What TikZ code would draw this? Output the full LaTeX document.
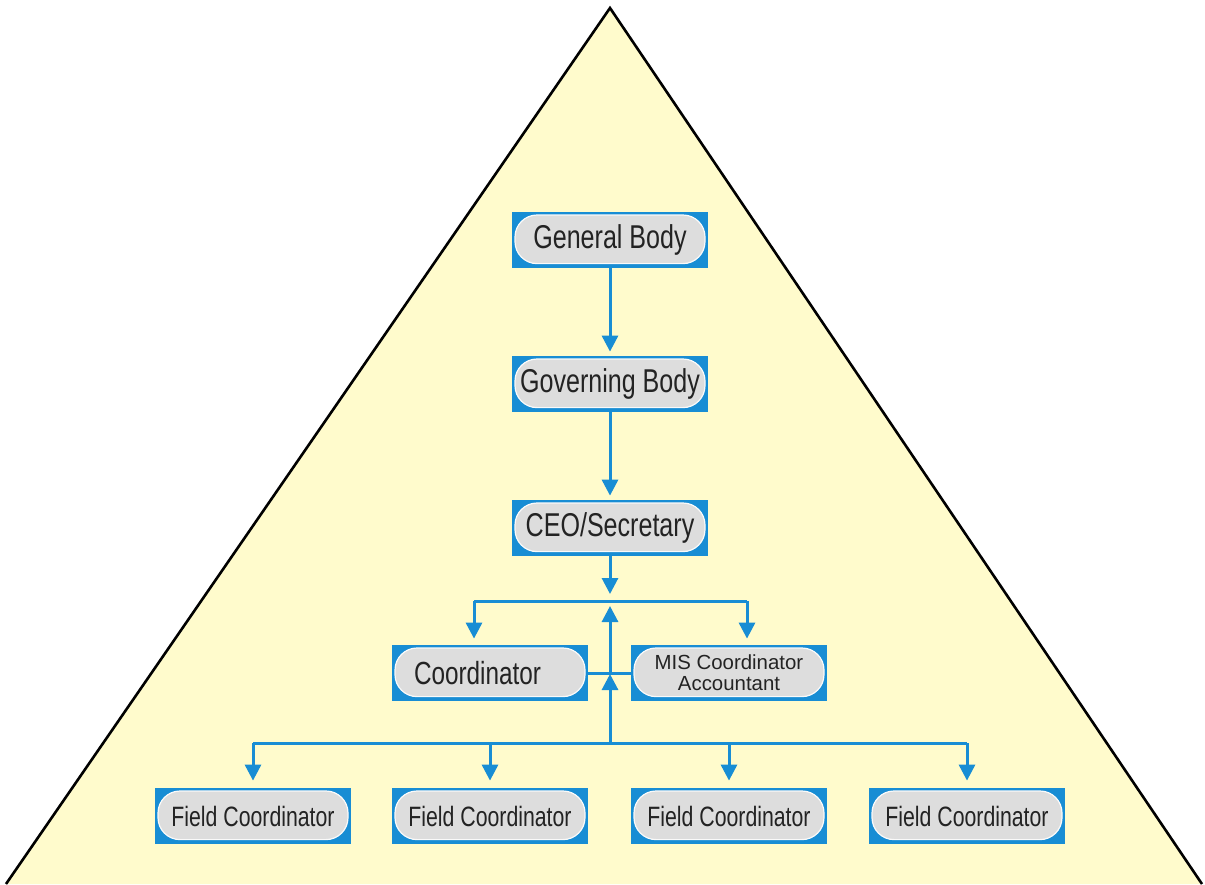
\documentclass[tikz,border=0pt]{standalone}
\usepackage{fontspec}
\setmainfont{Liberation Sans}
\newfontfamily\condfont[FakeStretch=0.76]{Liberation Sans}
\usetikzlibrary{positioning, calc, arrows.meta}

\definecolor{pyramidfill}{RGB}{255,251,204}
\definecolor{orgblue}{RGB}{24,141,212}
\definecolor{pillgray}{RGB}{221,221,221}
\definecolor{textgray}{RGB}{35,35,35}

\tikzset{
	orgbox/.style={rectangle, fill=orgblue, minimum width=98pt, minimum height=28pt,
		inner sep=0pt, text=textgray, align=center,
		path picture={\draw[fill=pillgray, draw=white!85!pillgray, line width=0.6pt, rounded corners=11pt]
			([xshift=1.5pt,yshift=2.2pt]path picture bounding box.south west) rectangle
			([xshift=-1.5pt,yshift=-1.5pt]path picture bounding box.north east);}},
	bigbox/.style={orgbox, font=\condfont\fontsize{16.5}{18}\selectfont},
	midbox/.style={orgbox, font=\condfont\fontsize{16}{17}\selectfont},
	fieldbox/.style={orgbox, font=\condfont\fontsize{14}{15}\selectfont},
	smallbox/.style={orgbox, font=\fontsize{10.2}{10.6}\selectfont},
	link/.style={orgblue, line width=1.5pt},
	arr/.style={link, -{Triangle[length=8pt,width=8pt]}},
}

\begin{document}
\begin{tikzpicture}[x=0.5pt, y=-0.5pt]
	\useasboundingbox (0,0) rectangle (1205,884);
	% pyramid
	\fill[pyramidfill] (6,884) -- (610,8) -- (1202,884) -- cycle;
	\draw[black, line width=1.3pt, line join=miter] (6,884) -- (610,8) -- (1202,884);

	% boxes
	\node[bigbox] (gb) at (610,240) {General Body};
	\node[bigbox] (gov) at (610,384) {Governing Body};
	\node[bigbox] (ceo) at (610,528) {CEO/Secretary};
	\node[midbox, text width=88pt, align=left] (coord) at (490,673) {\hspace*{6pt}Coordinator};
	\node[smallbox] (mis) at (729,673) {MIS Coordinator\\Accountant};
	\node[fieldbox] (fc1) at (253,816) {Field Coordinator};
	\node[fieldbox] (fc2) at (490,816) {Field Coordinator};
	\node[fieldbox] (fc3) at (729,816) {Field Coordinator};
	\node[fieldbox] (fc4) at (967,816) {Field Coordinator};

	% junction points
	\coordinate (ceotip) at (610,594);
	\coordinate (busl) at (474,601);
	\coordinate (busr) at (747,601);
	\coordinate (uptip) at (610,606);
	\coordinate (midtip) at (610,674);
	\coordinate (busmid) at (610,743);

	% connectors
	\draw[arr, shorten >=2pt] (gb) -- (gov);
	\draw[arr, shorten >=2pt] (gov) -- (ceo);
	\draw[arr] (ceo) -- (ceotip);
	\draw[link] (busl) -- (busr);
	\draw[arr, shorten >=3pt] (busl) -- (busl |- coord.north);
	\draw[arr, shorten >=3pt] (busr) -- (busr |- mis.north);
	\draw[link] (coord.east) -- (mis.west);
	\draw[arr] (busmid) -- (midtip);
	\draw[arr] (midtip) -- (uptip);
	\draw[link] (busmid -| fc1.north) -- (busmid -| fc4.north);
	\foreach \f in {fc1, fc2, fc3, fc4}
		\draw[arr, shorten >=3.5pt] (busmid -| \f.north) -- (\f.north);
\end{tikzpicture}
\end{document}
